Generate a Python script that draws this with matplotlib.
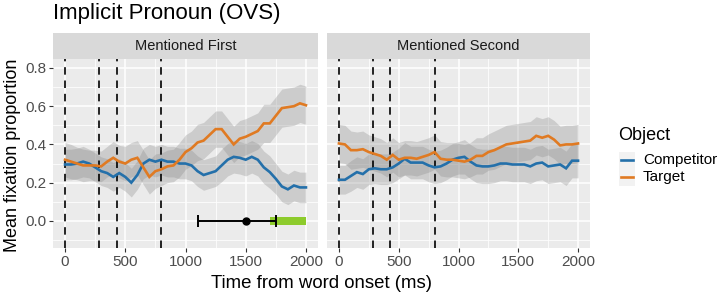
import matplotlib
matplotlib.use("Agg")
import matplotlib.pyplot as plt
from matplotlib.lines import Line2D
from matplotlib.patches import Rectangle
import numpy as np

plt.rcParams['font.family'] = ['Liberation Sans', 'DejaVu Sans']

time_ms = list(range(0, 2001, 50))

panels = ["Mentioned First", "Mentioned Second"]
series_names = ["Competitor", "Target"]
series_colors = {"Competitor": "#2470AA", "Target": "#E07A22"}

# Panel 1: Mentioned First
first_target = [0.32, 0.31, 0.30, 0.29, 0.29, 0.29, 0.285, 0.31, 0.33, 0.31, 0.30,
                0.32, 0.33, 0.28, 0.23, 0.26, 0.27, 0.285, 0.29, 0.32, 0.36,
                0.38, 0.41, 0.42, 0.45, 0.48, 0.48, 0.44, 0.40, 0.43, 0.44,
                0.455, 0.47, 0.51, 0.51, 0.55, 0.59, 0.595, 0.60, 0.615, 0.605]
first_target_hw = [0.09, 0.09, 0.085, 0.085, 0.08, 0.08, 0.08, 0.08, 0.085, 0.085, 0.09,
                   0.09, 0.09, 0.09, 0.09, 0.09, 0.085, 0.085, 0.085, 0.09, 0.09,
                   0.09, 0.095, 0.095, 0.095, 0.095, 0.095, 0.095, 0.095, 0.095, 0.095,
                   0.095, 0.095, 0.10, 0.10, 0.10, 0.10, 0.10, 0.10, 0.10, 0.10]
first_comp = [0.295, 0.295, 0.30, 0.31, 0.30, 0.28, 0.26, 0.25, 0.23, 0.25, 0.23,
              0.20, 0.24, 0.30, 0.32, 0.31, 0.32, 0.31, 0.31, 0.30, 0.30,
              0.29, 0.26, 0.24, 0.25, 0.26, 0.29, 0.32, 0.335, 0.33, 0.32,
              0.335, 0.32, 0.28, 0.255, 0.22, 0.18, 0.165, 0.185, 0.175, 0.175]
first_comp_hw = [0.08, 0.08, 0.08, 0.08, 0.075, 0.075, 0.075, 0.075, 0.075, 0.075, 0.075,
                 0.075, 0.075, 0.08, 0.08, 0.08, 0.08, 0.08, 0.08, 0.08, 0.08,
                 0.08, 0.08, 0.08, 0.08, 0.08, 0.085, 0.085, 0.085, 0.085, 0.085,
                 0.085, 0.085, 0.085, 0.085, 0.08, 0.08, 0.08, 0.08, 0.08, 0.08]

# Panel 2: Mentioned Second
second_target = [0.405, 0.40, 0.37, 0.37, 0.375, 0.36, 0.35, 0.34, 0.32, 0.345, 0.32,
                 0.33, 0.33, 0.325, 0.335, 0.345, 0.36, 0.325, 0.32, 0.32, 0.315,
                 0.31, 0.32, 0.34, 0.34, 0.36, 0.37, 0.385, 0.40, 0.405, 0.41,
                 0.415, 0.42, 0.445, 0.435, 0.445, 0.425, 0.395, 0.40, 0.40, 0.405]
second_target_hw = [0.10, 0.10, 0.10, 0.095, 0.095, 0.09, 0.09, 0.09, 0.09, 0.09, 0.09,
                    0.09, 0.09, 0.09, 0.09, 0.09, 0.09, 0.09, 0.09, 0.09, 0.09,
                    0.09, 0.09, 0.095, 0.095, 0.095, 0.10, 0.10, 0.10, 0.10, 0.10,
                    0.10, 0.10, 0.10, 0.10, 0.10, 0.10, 0.10, 0.10, 0.10, 0.10]
second_comp = [0.215, 0.215, 0.235, 0.255, 0.245, 0.27, 0.275, 0.27, 0.27, 0.28, 0.30,
               0.325, 0.305, 0.305, 0.305, 0.29, 0.28, 0.285, 0.30, 0.32, 0.33,
               0.335, 0.31, 0.29, 0.285, 0.285, 0.29, 0.30, 0.30, 0.295, 0.295,
               0.295, 0.285, 0.30, 0.305, 0.285, 0.29, 0.295, 0.275, 0.315, 0.315]
second_comp_hw = [0.075, 0.075, 0.08, 0.08, 0.08, 0.08, 0.08, 0.08, 0.08, 0.08, 0.08,
                  0.085, 0.085, 0.085, 0.085, 0.085, 0.085, 0.085, 0.085, 0.085, 0.085,
                  0.09, 0.09, 0.09, 0.09, 0.09, 0.09, 0.09, 0.09, 0.09, 0.09,
                  0.09, 0.09, 0.09, 0.09, 0.09, 0.09, 0.09, 0.09, 0.09, 0.09]

boundaries = [0, 283, 431, 800]

# Estimate with interval (Mentioned First only)
est_point = 1500
est_low = 1100
est_high = 1750
divergence_start = 1700
divergence_end = 2000

data = {
    "Mentioned First": {"Competitor": (first_comp, first_comp_hw),
                        "Target": (first_target, first_target_hw)},
    "Mentioned Second": {"Competitor": (second_comp, second_comp_hw),
                         "Target": (second_target, second_target_hw)},
}

W, H = 720, 295
fig = plt.figure(figsize=(7.2, 2.95), dpi=100)

panel_px = [(53, 318), (327, 590)]
top_px, bot_px = 59, 248
strip_top = 33

axes = []
for i, name in enumerate(panels):
    l, r = panel_px[i]
    ax = fig.add_axes([l / W, 1 - bot_px / H, (r - l) / W, (bot_px - top_px) / H])
    axes.append(ax)
    ax.set_facecolor("#EBEBEB")
    for s in ax.spines.values():
        s.set_visible(False)
    ax.set_xlim(-100, 2100)
    ax.set_ylim(-0.142, 0.847)
    ax.set_xticks([0, 500, 1000, 1500, 2000])
    ax.set_xticks([250, 750, 1250, 1750], minor=True)
    ax.set_yticks([0.0, 0.2, 0.4, 0.6, 0.8])
    ax.set_yticks([-0.1, 0.1, 0.3, 0.5, 0.7], minor=True)
    ax.grid(which="major", color="white", linewidth=1.1)
    ax.grid(which="minor", color="white", linewidth=0.55)
    ax.set_axisbelow(True)
    ax.tick_params(which="major", length=3, color="#333333", labelsize=11,
                   labelcolor="#4D4D4D", width=0.8, pad=2)
    ax.tick_params(which="minor", length=0)
    if i == 0:
        ax.set_yticklabels(["0.0", "0.2", "0.4", "0.6", "0.8"])
    else:
        ax.tick_params(axis="y", which="both", left=False, labelleft=False)

    t = np.array(time_ms)
    for sname in series_names:
        vals, hw = data[name][sname]
        v = np.array(vals)
        h = np.array(hw)
        ax.fill_between(t, v - h, v + h, color="#8C8C8C", alpha=0.32, linewidth=0, zorder=2)
    for sname in series_names:
        vals, hw = data[name][sname]
        ax.plot(t, vals, color=series_colors[sname], linewidth=1.9, zorder=4,
                solid_joinstyle="miter")

    for b in boundaries:
        ax.axvline(b, color="black", linestyle=(0, (4.5, 3.5)), linewidth=1.2, zorder=3)

    if i == 0:
        ax.fill_between([divergence_start, divergence_end], -0.02, 0.02,
                        color="#8DCB2C", linewidth=0, zorder=5)
        ax.errorbar([est_point], [0.0], xerr=[[est_point - est_low], [est_high - est_point]],
                    fmt="o", color="black", markersize=5, capsize=4, elinewidth=1.4,
                    capthick=1.4, zorder=6)

    # strip
    sax = fig.add_axes([l / W, 1 - top_px / H, (r - l) / W, (top_px - strip_top) / H])
    sax.set_facecolor("#D9D9D9")
    sax.set_xticks([])
    sax.set_yticks([])
    for s in sax.spines.values():
        s.set_visible(False)
    sax.text(0.5, 0.5, name, ha="center", va="center", fontsize=10.5, color="#1A1A1A",
             transform=sax.transAxes)

fig.text(53 / W, 1 - 13 / H, "Implicit Pronoun (OVS)", fontsize=16, ha="left", va="center",
         color="black")
fig.text((53 + 590) / 2 / W, 1 - 283 / H, "Time from word onset (ms)", fontsize=13.4,
         ha="center", va="center")
fig.text(13 / W, 1 - 155 / H, "Mean fixation proportion", fontsize=13, rotation=90,
         ha="center", va="center")

# legend
fig.text(618 / W, 1 - 135 / H, "Object", fontsize=13, ha="left", va="center")
for k, sname in enumerate(series_names):
    yc = 160 + k * 17
    fig.add_artist(Rectangle((619 / W, 1 - (yc + 8.5) / H), 16 / W, 17 / H,
                             transform=fig.transFigure, facecolor="#F2F2F2",
                             edgecolor="none"))
    fig.add_artist(Line2D([621 / W, 633 / W], [1 - yc / H, 1 - yc / H],
                          transform=fig.transFigure, color=series_colors[sname],
                          linewidth=1.9))
    fig.text(643 / W, 1 - yc / H, sname, fontsize=11, ha="left", va="center")

fig.savefig("out.png", dpi=100)
